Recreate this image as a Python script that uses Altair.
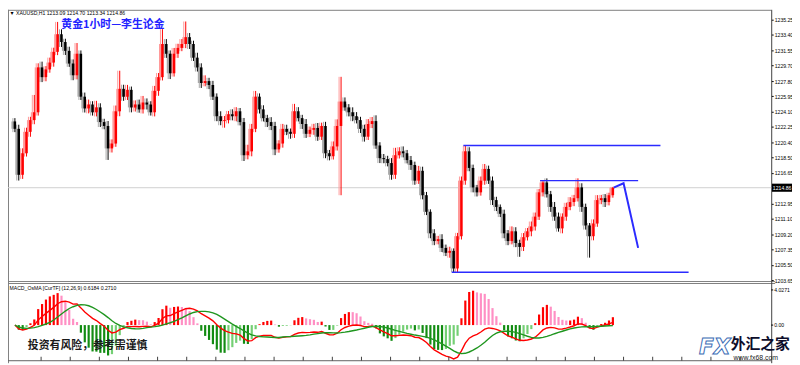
import altair as alt
import pandas as pd

# ---------------- data ----------------
closes = [
    1222.00, 1216.43, 1219.04, 1221.64, 1223.06, 1224.01, 1229.45, 1228.27, 1229.21, 1230.04,
    1231.34, 1233.47, 1232.53, 1231.46, 1229.92, 1228.50, 1231.11, 1225.90, 1224.48, 1224.95,
    1224.01, 1224.60, 1222.82, 1222.35, 1219.63, 1220.22, 1224.13, 1226.85, 1225.90, 1226.73,
    1224.60, 1224.95, 1224.36, 1225.19, 1224.95, 1224.01, 1226.61, 1228.27, 1232.29, 1231.11,
    1228.74, 1231.11, 1231.82, 1232.29, 1233.12, 1232.29, 1230.63, 1229.45, 1227.56, 1227.79,
    1227.32, 1225.90, 1223.53, 1222.94, 1223.06, 1223.77, 1223.53, 1224.13, 1222.82, 1218.80,
    1219.27, 1222.00, 1225.90, 1224.36, 1223.30, 1222.82, 1222.35, 1219.51, 1220.22, 1222.00,
    1221.64, 1221.40, 1224.13, 1223.30, 1222.59, 1221.40, 1221.88, 1222.11, 1221.05, 1222.35,
    1219.04, 1218.68, 1219.87, 1222.35, 1225.31, 1224.60, 1224.01, 1223.53, 1223.06, 1222.00,
    1221.05, 1222.59, 1222.94, 1219.98, 1218.45, 1218.33, 1217.85, 1216.43, 1218.80, 1219.27,
    1219.04, 1218.21, 1217.62, 1215.72, 1216.91, 1213.95, 1211.94, 1209.33, 1208.39, 1208.62,
    1207.56, 1206.97, 1207.20, 1205.07, 1208.98, 1215.72, 1219.27, 1217.26, 1214.90, 1214.30,
    1215.72, 1217.14, 1215.72, 1213.36, 1212.53, 1211.70, 1209.33, 1208.39, 1209.57, 1208.15,
    1207.68, 1208.86, 1209.57, 1210.16, 1211.35, 1214.30, 1215.49, 1214.07, 1212.53, 1211.35,
    1209.93, 1211.35, 1212.53, 1213.12, 1213.59, 1214.90, 1212.53, 1210.28, 1208.98, 1210.52,
    1213.36, 1213.59, 1213.12, 1213.95, 1214.86,
]
first_open = 1222.90
upper_wick = [
    0.4, 0.5, 0.6, 0.5, 0.4, 2.1, 0.5, 0.7, 0.4, 0.6,
    0.5, 1.5, 0.6, 0.4, 0.5, 0.5, 1.3, 0.4, 0.5, 0.6,
    0.4, 0.8, 0.5, 0.4, 0.6, 0.5, 0.7, 2.2, 0.5, 0.6,
    0.4, 0.5, 0.6, 0.8, 0.5, 0.4, 0.6, 0.5, 1.8, 0.6,
    0.4, 0.7, 0.5, 0.6, 1.9, 0.5, 0.4, 0.6, 0.5, 0.7,
    0.4, 0.5, 0.4, 0.6, 0.5, 0.4, 0.6, 0.5, 0.4, 0.5,
    0.8, 0.6, 0.7, 0.4, 0.5, 0.4, 0.6, 0.5, 0.4, 0.6,
    0.5, 0.4, 0.9, 0.5, 0.4, 0.6, 0.4, 0.5, 0.6, 0.4,
    0.5, 0.4, 0.6, 0.8, 3.0, 0.5, 0.4, 0.6, 0.5, 0.4,
    0.5, 0.6, 0.5, 0.7, 0.4, 0.5, 0.4, 0.6, 0.9, 0.5,
    0.6, 0.4, 0.5, 0.4, 0.6, 0.5, 0.4, 0.3, 0.5, 0.4,
    0.6, 0.4, 0.5, 0.3, 0.4, 0.5, 0.7, 0.5, 0.4, 0.3,
    0.5, 0.6, 0.4, 0.5, 0.4, 0.3, 0.5, 0.4, 0.6, 0.5,
    0.4, 0.5, 0.4, 0.6, 0.5, 0.4, 0.3, 0.5, 0.4, 0.6,
    0.5, 0.4, 0.5, 0.6, 0.4, 1.1, 0.5, 0.4, 0.3, 0.5,
    0.6, 0.4, 0.5, 0.3, 0.1,
]
lower_wick = [
    0.4, 0.7, 0.5, 0.4, 0.6, 0.5, 0.4, 0.6, 0.5, 0.4,
    0.5, 0.4, 0.6, 0.5, 0.4, 0.6, 0.5, 0.4, 0.5, 0.6,
    0.4, 0.5, 0.6, 0.4, 1.4, 0.5, 0.4, 0.6, 0.5, 0.4,
    0.6, 0.5, 0.4, 0.5, 0.6, 0.4, 0.5, 0.6, 0.4, 0.5,
    0.7, 0.4, 0.5, 0.4, 0.5, 0.6, 0.4, 0.5, 0.6, 0.4,
    0.5, 0.4, 0.6, 0.5, 0.8, 0.4, 0.5, 0.6, 0.4, 0.7,
    0.5, 0.6, 0.4, 0.5, 0.4, 0.6, 0.5, 0.7, 0.4, 0.5,
    0.4, 0.6, 0.5, 0.4, 0.6, 0.5, 0.4, 0.6, 0.5, 0.4,
    0.6, 0.5, 0.4, 0.5, 8.4, 0.4, 0.5, 0.6, 0.4, 0.5,
    0.6, 0.4, 0.5, 0.4, 0.6, 0.5, 0.4, 0.6, 0.5, 0.4,
    0.5, 0.4, 0.6, 0.5, 0.4, 0.5, 0.4, 0.6, 0.5, 0.4,
    0.5, 0.4, 0.6, 0.45, 0.5, 0.4, 0.5, 0.4, 0.6, 0.5,
    0.4, 0.5, 0.4, 0.6, 0.5, 0.4, 0.6, 0.5, 0.4, 0.5,
    1.2, 0.5, 0.4, 0.6, 0.5, 0.4, 0.5, 0.4, 0.6, 0.5,
    0.4, 0.6, 0.5, 0.4, 0.5, 0.4, 0.6, 0.5, 2.6, 0.5,
    0.4, 0.5, 0.6, 0.4, 0.3,
]

price_ticks = [1235.25, 1233.40, 1231.55, 1229.70, 1227.80, 1225.95, 1224.10, 1222.25,
               1220.40, 1218.50, 1216.65, 1212.95, 1211.10, 1209.20, 1207.35, 1205.50, 1203.65]
last_price = 1214.86
macd_label_values = [4.0271, 0.0]
macd_label_texts = ["4.0271", "0.00"]

level_start = [115.5, 135.25, 112.5]
level_end = [166.25, 160.5, 173.5]
level_price = [1219.97, 1215.72, 1204.62]
proj_idx = [154.2, 156.75, 160.5]
proj_price = [1214.86, 1215.40, 1207.56]

time_ticks = [6.75, 14.25, 21.75, 29.25, 36.75, 44.25, 51.75, 59.25, 66.75, 74.25,
              81.75, 89.25, 96.75, 104.25, 111.75, 119.25, 126.75, 134.25, 141.75,
              149.25, 156.75, 164.25, 171.75, 179.25, 186.75]

header_text = "\u25bc  XAUUSD,H1  1213.09 1214.70 1213.34 1214.86"
title_text = "黄金1小时—李生论金"
macd_header = "MACD_OsMA [CurTF] (12,26,9) 0.6184 0.2710"
risk_text = "投资有风险，参考需谨慎"

# ---------------- table ----------------
opens = [first_open] + closes[:-1]
rows = []
for i, (o, c, u, l) in enumerate(zip(opens, closes, upper_wick, lower_wick)):
    rows.append({
        "i": i, "open": o, "close": c,
        "high": max(o, c) + u, "low": min(o, c) - l,
        "col": "#ff0000" if c >= o else "#000000",
        "ghost": "#ff9a9a" if c >= o else "#a8a8a8",
    })
df = pd.DataFrame(rows)
s = df["close"]
macd = s.ewm(span=12, adjust=False).mean() - s.ewm(span=26, adjust=False).mean()
signal = macd.rolling(9, min_periods=1).mean()
osma = (macd - signal) * 2.4
df["macd"] = macd
df["signal"] = signal
df["hist"] = osma
prev = osma.shift(1).fillna(0)
hcol = []
for v, p in zip(osma, prev):
    if v >= 0:
        hcol.append("#ff0000" if v >= p else "#ff8fc4")
    else:
        hcol.append("#128c12" if v <= p else "#74cf74")
df["hcol"] = hcol

lev = pd.DataFrame({"s": level_start, "e": level_end, "p": level_price})
proj = pd.DataFrame({"i": proj_idx, "p": proj_price})
ticks_df = pd.DataFrame({"t": time_ticks})
mlab = pd.DataFrame({"v": macd_label_values, "t": macd_label_texts})
one = pd.DataFrame({"a": [0]})

# ---------------- scales ----------------
W, H = 771, 357
xs = alt.Scale(domain=[-0.5, 193.5], range=[0, W], nice=False, zero=False)
ps = alt.Scale(domain=[1203.65, 1235.25], range=[273.1, 9.9], nice=False, zero=False)
ms = alt.Scale(domain=[0, 4.0271], range=[318.5, 283.0], nice=False, zero=False)
FONT = "Liberation Sans"
CJK = "Noto Sans CJK SC"


def hline(y, x1, x2, color, sw=1):
    return alt.Chart(one).mark_rule(color=color, strokeWidth=sw).encode(
        x=alt.value(x1), x2=alt.value(x2), y=alt.value(y))


def vline(x, y1, y2, color, sw=1):
    return alt.Chart(one).mark_rule(color=color, strokeWidth=sw).encode(
        x=alt.value(x), y=alt.value(y1), y2=alt.value(y2))


def label(txt, x, y, size, color, align="left", weight="normal", font=FONT, **kw):
    return alt.Chart(one).mark_text(text=txt, align=align, baseline="middle", fontSize=size,
                                    color=color, fontWeight=weight, font=font, **kw).encode(
        x=alt.value(x), y=alt.value(y))


frame = [
    hline(0.5, 0, W, "#808080"),
    vline(0.5, 0, H, "#808080"),
    hline(274.5, 0, W + 4, "#808080"),
    hline(276.5, 0, W + 4, "#808080"),
    hline(354.5, 0, W, "#606060"),
    vline(W + 0.5, 0, H, "#404040"),
]

price_line = alt.Chart(one).mark_rule(color="#cfcfcf", strokeWidth=1).encode(
    x=alt.value(0), x2=alt.value(W),
    y=alt.Y(datum=last_price, scale=ps, axis=None))

ghost_wicks = alt.Chart(df).mark_rule(strokeWidth=1, xOffset=-2).encode(
    x=alt.X("i:Q", scale=xs, axis=None),
    y=alt.Y("low:Q", scale=ps, axis=None),
    y2="high:Q",
    color=alt.Color("ghost:N", scale=None))

ghost_bodies = alt.Chart(df).mark_bar(size=3, strokeWidth=0, xOffset=-2).encode(
    x=alt.X("i:Q", scale=xs, axis=None),
    y=alt.Y("open:Q", scale=ps, axis=None),
    y2="close:Q",
    color=alt.Color("ghost:N", scale=None))

wicks = alt.Chart(df).mark_rule(strokeWidth=1).encode(
    x=alt.X("i:Q", scale=xs, axis=None),
    y=alt.Y("low:Q", scale=ps, axis=alt.Axis(
        orient="right", values=price_ticks, format=".2f", labelFontSize=5.2, labelFont=FONT,
        labelColor="#000", tickColor="#000", tickSize=2, domain=False, grid=False,
        title=None, labelPadding=1, labelOverlap=False, labelFlush=False)),
    y2="high:Q",
    color=alt.Color("col:N", scale=None))

bodies = alt.Chart(df).mark_bar(size=2.5, strokeWidth=0).encode(
    x=alt.X("i:Q", scale=xs, axis=None),
    y=alt.Y("open:Q", scale=ps, axis=None),
    y2="close:Q",
    color=alt.Color("col:N", scale=None))

levels = alt.Chart(lev).mark_rule(color="#2b2bff", strokeWidth=1.5).encode(
    x=alt.X("s:Q", scale=xs, axis=None), x2="e:Q",
    y=alt.Y("p:Q", scale=ps, axis=None))

projection = alt.Chart(proj).mark_line(color="#2b2bff", strokeWidth=2).encode(
    x=alt.X("i:Q", scale=xs, axis=None),
    y=alt.Y("p:Q", scale=ps, axis=None))

price_box = alt.Chart(one).mark_point(
    shape="M-1,-0.4L1,-0.4L1,0.4L-1,0.4Z", filled=True, size=420, color="#000",
    opacity=1).encode(x=alt.value(782), y=alt.Y(datum=last_price, scale=ps, axis=None))
price_box_text = alt.Chart(one).mark_text(
    text="1214.86", fontSize=5.2, font=FONT, color="#fff", align="center",
    baseline="middle").encode(x=alt.value(782), y=alt.Y(datum=last_price, scale=ps, axis=None))

hist = alt.Chart(df).mark_bar(size=2.2, strokeWidth=0).encode(
    x=alt.X("i:Q", scale=xs, axis=None),
    y=alt.Y("hist:Q", scale=ms, axis=None),
    y2=alt.datum(0),
    color=alt.Color("hcol:N", scale=None))

macd_line = alt.Chart(df).mark_line(color="#ff0000", strokeWidth=1.4).encode(
    x=alt.X("i:Q", scale=xs, axis=None), y=alt.Y("macd:Q", scale=ms, axis=None))
signal_line = alt.Chart(df).mark_line(color="#1f961f", strokeWidth=1.4).encode(
    x=alt.X("i:Q", scale=xs, axis=None), y=alt.Y("signal:Q", scale=ms, axis=None))

macd_ticks = alt.Chart(mlab).mark_rule(color="#000").encode(
    x=alt.value(W), x2=alt.value(W + 2), y=alt.Y("v:Q", scale=ms, axis=None))
macd_texts = alt.Chart(mlab).mark_text(
    fontSize=5.2, font=FONT, color="#000", align="left", baseline="middle").encode(
    x=alt.value(W + 3), y=alt.Y("v:Q", scale=ms, axis=None), text="t:N")

time_tick_marks = alt.Chart(ticks_df).mark_rule(color="#404040").encode(
    x=alt.X("t:Q", scale=xs, axis=None), y=alt.value(350.5), y2=alt.value(354.5))

texts = [
    label(header_text, 1.5, 3.5, 5.2, "#000"),
    label(title_text, 106, 15.5, 11, "#2323ff", align="center", weight="bold", font=CJK),
    label(macd_header, 1.5, 281, 5.2, "#000"),
    label(risk_text, 20, 340, 11, "#1a1a1a", weight="bold", font=CJK),
    label("FX", 714, 341, 22, "#ffffff", align="center", weight="bold", font="DejaVu Sans",
          fontStyle="italic", stroke="#3b6cb5", strokeWidth=1),
    label("外汇之家", 730, 338, 15, "#0d0d2b", weight="bold", font=CJK),
    label("www.fx68.com", 733, 351.5, 7, "#1a1a1a", font=FONT),
]

chart = alt.layer(
    *frame, price_line, ghost_wicks, ghost_bodies, wicks, bodies, levels, projection,
    price_box, price_box_text, hist, macd_line, signal_line, macd_ticks, macd_texts,
    time_tick_marks, *texts
).resolve_scale(y="independent").properties(
    width=W, height=H,
    autosize=alt.AutoSizeParams(type="none"),
    padding={"left": 0, "top": 0, "right": 21, "bottom": 0},
    background="#ffffff",
).configure_view(strokeWidth=0)

chart.save("out.html", embed_options={"renderer": "svg", "actions": False})
